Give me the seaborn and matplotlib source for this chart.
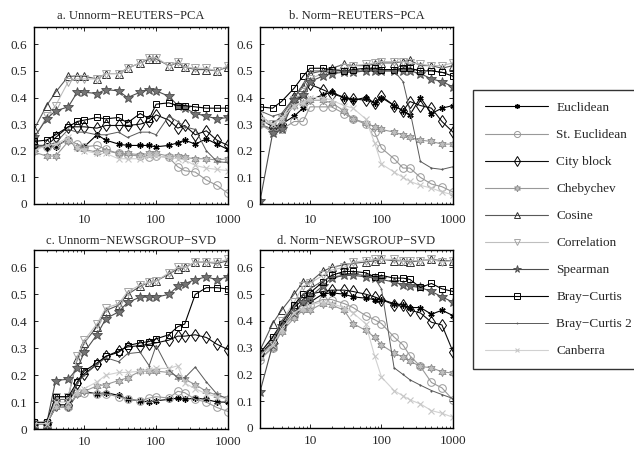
import numpy as np
import pandas as pd
import matplotlib
matplotlib.use("Agg")
import matplotlib.pyplot as plt
from matplotlib.lines import Line2D
from matplotlib.ticker import FixedLocator, NullFormatter, LogLocator
import seaborn as sns

# number of dimensions kept
dims = [2, 3, 4, 6, 8, 10, 15, 20, 30, 40, 60, 80, 100, 150, 200, 250, 350, 500, 700, 1000]

measures = ["Euclidean", "St. Euclidean", "City block", "Chebychev", "Cosine",
            "Correlation", "Spearman", "Bray\u2212Curtis", "Bray\u2212Curtis 2", "Canberra"]

titles = ["a. Unnorm\u2212REUTERS\u2212PCA", "b. Norm\u2212REUTERS\u2212PCA",
          "c. Unnorm\u2212NEWSGROUP\u2212SVD", "d. Norm\u2212NEWSGROUP\u2212SVD"]

# ---- a. Unnorm-REUTERS-PCA ----
a_euclidean = [0.215, 0.215, 0.215, 0.245, 0.21, 0.215, 0.26, 0.24, 0.225, 0.22, 0.22, 0.22, 0.215, 0.22, 0.23, 0.24, 0.225, 0.245, 0.225, 0.205]
a_st_euclidean = [0.215, 0.215, 0.22, 0.24, 0.225, 0.215, 0.22, 0.205, 0.19, 0.185, 0.18, 0.175, 0.18, 0.175, 0.14, 0.125, 0.12, 0.09, 0.07, 0.04]
a_city_block = [0.22, 0.22, 0.25, 0.29, 0.29, 0.29, 0.285, 0.295, 0.295, 0.295, 0.30, 0.31, 0.335, 0.315, 0.285, 0.295, 0.26, 0.275, 0.24, 0.22]
a_chebychev = [0.195, 0.18, 0.18, 0.235, 0.215, 0.205, 0.195, 0.20, 0.19, 0.19, 0.185, 0.19, 0.19, 0.18, 0.18, 0.175, 0.17, 0.17, 0.165, 0.17]
a_cosine = [0.28, 0.37, 0.42, 0.48, 0.48, 0.48, 0.47, 0.49, 0.49, 0.51, 0.53, 0.545, 0.545, 0.52, 0.53, 0.515, 0.505, 0.505, 0.50, 0.515]
a_correlation = [0.24, 0.33, 0.37, 0.46, 0.47, 0.47, 0.47, 0.49, 0.49, 0.51, 0.53, 0.55, 0.55, 0.52, 0.535, 0.515, 0.51, 0.51, 0.50, 0.52]
a_spearman = [0.25, 0.32, 0.35, 0.365, 0.42, 0.42, 0.415, 0.43, 0.425, 0.40, 0.42, 0.43, 0.425, 0.405, 0.37, 0.36, 0.34, 0.33, 0.32, 0.325]
a_bray_curtis = [0.235, 0.24, 0.26, 0.29, 0.31, 0.315, 0.325, 0.32, 0.325, 0.305, 0.34, 0.32, 0.375, 0.38, 0.37, 0.37, 0.365, 0.36, 0.36, 0.36]
a_bray_curtis2 = [0.22, 0.22, 0.23, 0.28, 0.27, 0.27, 0.26, 0.26, 0.27, 0.25, 0.27, 0.27, 0.26, 0.33, 0.31, 0.29, 0.28, 0.20, 0.16, 0.155]
a_canberra = [0.20, 0.22, 0.225, 0.25, 0.21, 0.20, 0.19, 0.19, 0.17, 0.17, 0.17, 0.18, 0.18, 0.175, 0.17, 0.165, 0.145, 0.135, 0.13, 0.125]

# ---- b. Norm-REUTERS-PCA ----
b_euclidean = [0.30, 0.28, 0.30, 0.33, 0.36, 0.39, 0.41, 0.42, 0.40, 0.39, 0.40, 0.38, 0.40, 0.37, 0.35, 0.335, 0.40, 0.34, 0.36, 0.37]
b_st_euclidean = [0.30, 0.28, 0.28, 0.31, 0.31, 0.365, 0.365, 0.365, 0.34, 0.32, 0.30, 0.27, 0.21, 0.17, 0.135, 0.135, 0.10, 0.075, 0.065, 0.045]
b_city_block = [0.32, 0.29, 0.30, 0.40, 0.40, 0.45, 0.43, 0.415, 0.40, 0.395, 0.39, 0.38, 0.405, 0.37, 0.35, 0.385, 0.37, 0.36, 0.31, 0.27]
b_chebychev = [0.30, 0.27, 0.31, 0.37, 0.38, 0.39, 0.39, 0.38, 0.35, 0.32, 0.305, 0.29, 0.28, 0.27, 0.26, 0.25, 0.24, 0.235, 0.225, 0.225]
b_cosine = [0.33, 0.30, 0.33, 0.40, 0.44, 0.49, 0.50, 0.51, 0.525, 0.52, 0.52, 0.525, 0.53, 0.53, 0.535, 0.54, 0.52, 0.52, 0.51, 0.52]
b_correlation = [0.31, 0.30, 0.32, 0.39, 0.42, 0.47, 0.49, 0.50, 0.51, 0.52, 0.525, 0.53, 0.535, 0.535, 0.535, 0.53, 0.525, 0.52, 0.52, 0.53]
b_spearman = [0.01, 0.265, 0.28, 0.39, 0.41, 0.46, 0.48, 0.49, 0.495, 0.495, 0.50, 0.50, 0.50, 0.50, 0.50, 0.50, 0.49, 0.47, 0.46, 0.44]
b_bray_curtis = [0.365, 0.36, 0.385, 0.435, 0.48, 0.51, 0.51, 0.505, 0.50, 0.505, 0.51, 0.51, 0.505, 0.505, 0.51, 0.51, 0.50, 0.50, 0.495, 0.48]
b_bray_curtis2 = [0.35, 0.33, 0.34, 0.40, 0.45, 0.50, 0.50, 0.50, 0.50, 0.50, 0.50, 0.50, 0.50, 0.50, 0.46, 0.35, 0.16, 0.135, 0.13, 0.14]
b_canberra = [0.33, 0.30, 0.32, 0.37, 0.38, 0.40, 0.40, 0.39, 0.37, 0.36, 0.32, 0.23, 0.15, 0.12, 0.10, 0.085, 0.07, 0.06, 0.045, 0.035]

# ---- c. Unnorm-NEWSGROUP-SVD ----
c_euclidean = [0.02, 0.02, 0.08, 0.08, 0.13, 0.14, 0.13, 0.135, 0.125, 0.11, 0.105, 0.10, 0.105, 0.11, 0.115, 0.11, 0.115, 0.11, 0.10, 0.10]
c_st_euclidean = [0.02, 0.02, 0.09, 0.08, 0.135, 0.135, 0.13, 0.13, 0.12, 0.11, 0.105, 0.115, 0.12, 0.115, 0.14, 0.135, 0.11, 0.10, 0.08, 0.065]
c_city_block = [0.02, 0.02, 0.09, 0.09, 0.17, 0.205, 0.24, 0.27, 0.29, 0.305, 0.31, 0.315, 0.32, 0.33, 0.345, 0.345, 0.35, 0.34, 0.315, 0.295]
c_chebychev = [0.02, 0.02, 0.08, 0.08, 0.13, 0.14, 0.16, 0.165, 0.18, 0.19, 0.215, 0.215, 0.215, 0.21, 0.195, 0.185, 0.165, 0.14, 0.125, 0.115]
c_cosine = [0.02, 0.02, 0.12, 0.12, 0.26, 0.32, 0.38, 0.44, 0.46, 0.50, 0.53, 0.545, 0.55, 0.575, 0.595, 0.60, 0.62, 0.62, 0.615, 0.625]
c_correlation = [0.02, 0.02, 0.12, 0.12, 0.27, 0.33, 0.39, 0.45, 0.465, 0.51, 0.535, 0.545, 0.55, 0.58, 0.60, 0.60, 0.62, 0.62, 0.62, 0.63]
c_spearman = [0.02, 0.02, 0.18, 0.185, 0.225, 0.285, 0.35, 0.41, 0.435, 0.47, 0.49, 0.49, 0.49, 0.50, 0.53, 0.54, 0.555, 0.565, 0.555, 0.565]
c_bray_curtis = [0.025, 0.025, 0.12, 0.12, 0.175, 0.215, 0.245, 0.27, 0.285, 0.31, 0.32, 0.325, 0.335, 0.35, 0.38, 0.39, 0.50, 0.525, 0.525, 0.52]
c_bray_curtis2 = [0.02, 0.02, 0.11, 0.11, 0.17, 0.20, 0.24, 0.265, 0.25, 0.28, 0.285, 0.235, 0.31, 0.22, 0.19, 0.19, 0.23, 0.175, 0.13, 0.11]
c_canberra = [0.02, 0.02, 0.10, 0.10, 0.14, 0.15, 0.175, 0.20, 0.21, 0.21, 0.215, 0.22, 0.225, 0.225, 0.235, 0.17, 0.15, 0.13, 0.12, 0.11]

# ---- d. Norm-NEWSGROUP-SVD ----
d_euclidean = [0.27, 0.31, 0.37, 0.43, 0.47, 0.47, 0.50, 0.505, 0.50, 0.49, 0.485, 0.48, 0.48, 0.465, 0.46, 0.45, 0.45, 0.425, 0.44, 0.42]
d_st_euclidean = [0.255, 0.30, 0.37, 0.42, 0.45, 0.46, 0.48, 0.48, 0.465, 0.45, 0.42, 0.405, 0.39, 0.34, 0.31, 0.27, 0.23, 0.17, 0.15, 0.105]
d_city_block = [0.28, 0.32, 0.38, 0.45, 0.48, 0.50, 0.51, 0.515, 0.515, 0.51, 0.50, 0.49, 0.48, 0.46, 0.46, 0.44, 0.43, 0.395, 0.385, 0.285]
d_chebychev = [0.26, 0.30, 0.36, 0.41, 0.44, 0.44, 0.465, 0.46, 0.44, 0.39, 0.365, 0.34, 0.31, 0.28, 0.265, 0.25, 0.23, 0.225, 0.21, 0.205]
d_cosine = [0.29, 0.39, 0.44, 0.50, 0.545, 0.545, 0.585, 0.60, 0.61, 0.615, 0.62, 0.625, 0.63, 0.625, 0.625, 0.62, 0.625, 0.63, 0.625, 0.625]
d_correlation = [0.28, 0.33, 0.40, 0.47, 0.53, 0.54, 0.57, 0.59, 0.60, 0.62, 0.625, 0.63, 0.63, 0.63, 0.625, 0.625, 0.625, 0.63, 0.62, 0.625]
d_spearman = [0.135, 0.31, 0.38, 0.43, 0.47, 0.49, 0.53, 0.56, 0.57, 0.57, 0.565, 0.56, 0.555, 0.545, 0.535, 0.53, 0.525, 0.51, 0.49, 0.47]
d_bray_curtis = [0.28, 0.34, 0.39, 0.46, 0.50, 0.505, 0.545, 0.57, 0.585, 0.585, 0.58, 0.565, 0.57, 0.56, 0.56, 0.555, 0.525, 0.54, 0.52, 0.51]
d_bray_curtis2 = [0.27, 0.32, 0.40, 0.45, 0.50, 0.52, 0.55, 0.565, 0.57, 0.575, 0.57, 0.56, 0.52, 0.225, 0.20, 0.18, 0.16, 0.14, 0.125, 0.11]
d_canberra = [0.27, 0.31, 0.37, 0.43, 0.45, 0.46, 0.47, 0.465, 0.45, 0.43, 0.39, 0.27, 0.19, 0.14, 0.12, 0.105, 0.09, 0.065, 0.055, 0.04]

panels = [
    [a_euclidean, a_st_euclidean, a_city_block, a_chebychev, a_cosine,
     a_correlation, a_spearman, a_bray_curtis, a_bray_curtis2, a_canberra],
    [b_euclidean, b_st_euclidean, b_city_block, b_chebychev, b_cosine,
     b_correlation, b_spearman, b_bray_curtis, b_bray_curtis2, b_canberra],
    [c_euclidean, c_st_euclidean, c_city_block, c_chebychev, c_cosine,
     c_correlation, c_spearman, c_bray_curtis, c_bray_curtis2, c_canberra],
    [d_euclidean, d_st_euclidean, d_city_block, d_chebychev, d_cosine,
     d_correlation, d_spearman, d_bray_curtis, d_bray_curtis2, d_canberra],
]

# grayscale line / marker styles for each measure
styles = [
    dict(color="0.0", marker=(6, 2, 0), ms=4.5, mec="0.0", mfc="0.0", mew=1.0, lw=0.8),
    dict(color="0.6", marker="o", ms=5.5, mec="0.6", mfc="none", mew=0.7, lw=0.8),
    dict(color="0.05", marker="d", ms=6, mec="0.0", mfc="none", mew=0.7, lw=0.8),
    dict(color="0.6", marker=(6, 1, 0), ms=6, mec="0.55", mfc="0.75", mew=0.6, lw=0.8),
    dict(color="0.35", marker="^", ms=6, mec="0.2", mfc="none", mew=0.7, lw=0.8),
    dict(color="0.75", marker="v", ms=6, mec="0.65", mfc="none", mew=0.7, lw=0.8),
    dict(color="0.3", marker="*", ms=7, mec="0.3", mfc="0.45", mew=0.6, lw=0.8),
    dict(color="0.0", marker="s", ms=5, mec="0.0", mfc="none", mew=0.7, lw=0.8),
    dict(color="0.35", marker=".", ms=2, mec="0.35", mfc="0.35", mew=0.5, lw=0.7),
    dict(color="0.82", marker="x", ms=4, mec="0.78", mfc="0.78", mew=0.8, lw=0.8),
]

sns.set_theme(style="white")
plt.rcParams["font.family"] = ["Liberation Serif", "DejaVu Serif"]
plt.rcParams["axes.unicode_minus"] = True

fig = plt.figure(figsize=(6.34, 4.49), dpi=100)
W, H = 634.0, 449.0
boxes = [
    (34, 27, 194, 177),
    (260, 27, 193, 177),
    (34, 250, 194, 179),
    (260, 250, 193, 178),
]

for k, (x0, y0, w, h) in enumerate(boxes):
    ax = fig.add_axes([x0 / W, 1 - (y0 + h) / H, w / W, h / H])
    for name, vals, st in zip(measures, panels[k], styles):
        df = pd.DataFrame({"dim": dims, "score": vals})
        sns.lineplot(data=df, x="dim", y="score", ax=ax, color=st["color"],
                     marker=st["marker"], markersize=st["ms"],
                     markeredgecolor=st["mec"], markerfacecolor=st["mfc"],
                     markeredgewidth=st["mew"], linewidth=st["lw"],
                     legend=False, errorbar=None)
    ax.set_xscale("log")
    ax.set_xlim(2, 1000)
    ax.set_ylim(0, 0.665)
    ax.xaxis.set_major_locator(FixedLocator([10, 100, 1000]))
    ax.set_xticklabels(["10", "100", "1000"])
    ax.xaxis.set_minor_locator(LogLocator(base=10, subs=np.arange(2, 10)))
    ax.xaxis.set_minor_formatter(NullFormatter())
    ax.set_yticks([0, 0.1, 0.2, 0.3, 0.4, 0.5, 0.6])
    ax.set_yticklabels(["0", "0.1", "0.2", "0.3", "0.4", "0.5", "0.6"])
    ax.set_xlabel("")
    ax.set_ylabel("")
    ax.tick_params(axis="both", which="major", direction="in", length=3,
                   width=0.6, color="black", labelsize=9.5, top=True, right=True,
                   bottom=True, left=True)
    ax.tick_params(axis="x", which="major", pad=7 if k < 2 else 5)
    ax.tick_params(axis="y", which="major", pad=5)
    ax.tick_params(axis="x", which="minor", direction="in", length=1.5,
                   width=0.5, color="black", top=True, bottom=True)
    for sp in ax.spines.values():
        sp.set_color("black")
        sp.set_linewidth(1.0)
    ax.set_title(titles[k], fontsize=9, pad=6 if k < 2 else 4)

handles = [Line2D([0], [0], color=st["color"], lw=st["lw"], marker=st["marker"],
                  markersize=st["ms"] * 0.8, markeredgecolor=st["mec"],
                  markerfacecolor=st["mfc"], markeredgewidth=st["mew"])
           for st in styles]
leg = fig.legend(handles, measures, loc="upper left",
                 bbox_to_anchor=(473 / W, 1 - 90 / H), borderaxespad=0,
                 frameon=True, fancybox=False, edgecolor="black",
                 fontsize=9.5, handlelength=4.8, handletextpad=0.6,
                 labelspacing=1.12, borderpad=0.9, markerscale=1.0)
leg.get_frame().set_linewidth(1.0)

fig.savefig("out.png", dpi=100)
